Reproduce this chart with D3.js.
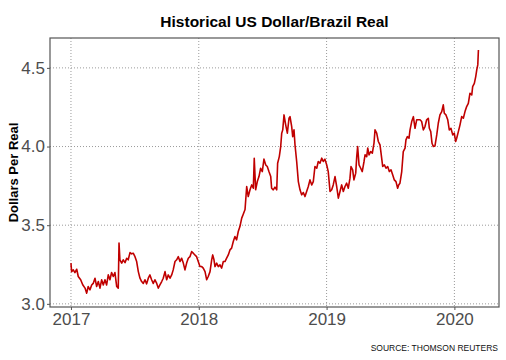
<!DOCTYPE html>
<html><head><meta charset="utf-8">
<script src="https://cdn.jsdelivr.net/npm/d3@7"></script>
<style>html,body{margin:0;padding:0;background:#fff;}svg{display:block;}</style>
</head><body>
<svg id="chart" width="506" height="360"></svg>
<script>
// Time in decimal years
const years = [
2017.000,2017.005,2017.018,2017.031,2017.045,2017.057,2017.076,2017.092,2017.110,2017.123,
2017.135,2017.149,2017.162,2017.174,2017.188,2017.201,2017.214,2017.227,2017.240,2017.253,
2017.266,2017.279,2017.292,2017.305,2017.318,2017.331,2017.344,2017.358,2017.370,2017.376,
2017.383,2017.397,2017.409,2017.423,2017.436,2017.448,2017.462,2017.475,2017.487,2017.501,
2017.514,2017.527,2017.540,2017.553,2017.566,2017.579,2017.592,2017.605,2017.618,2017.631,
2017.644,2017.657,2017.671,2017.683,2017.696,2017.710,2017.722,2017.736,2017.749,2017.761,
2017.775,2017.788,2017.800,2017.814,2017.827,2017.840,2017.853,2017.866,2017.879,2017.892,
2017.905,2017.918,2017.931,2017.944,2017.957,2017.970,2017.983,2017.996,2018.009,2018.023,
2018.035,2018.049,2018.062,2018.074,2018.088,2018.101,2018.109,2018.119,2018.127,2018.140,
2018.153,2018.166,2018.179,2018.192,2018.205,2018.218,2018.231,2018.244,2018.257,2018.270,
2018.283,2018.296,2018.309,2018.322,2018.336,2018.348,2018.362,2018.375,2018.387,2018.401,
2018.414,2018.427,2018.434,2018.445,2018.458,2018.471,2018.484,2018.497,2018.510,2018.524,
2018.536,2018.549,2018.563,2018.570,2018.583,2018.596,2018.610,2018.617,2018.630,2018.641,
2018.649,2018.657,2018.667,2018.680,2018.693,2018.706,2018.714,2018.727,2018.735,2018.745,
2018.753,2018.766,2018.779,2018.792,2018.805,2018.818,2018.831,2018.844,2018.857,2018.870,
2018.884,2018.896,2018.909,2018.923,2018.935,2018.948,2018.962,2018.974,2018.987,2019.001,
2019.013,2019.027,2019.040,2019.052,2019.066,2019.079,2019.092,2019.105,2019.118,2019.131,
2019.144,2019.157,2019.170,2019.183,2019.191,2019.204,2019.214,2019.228,2019.236,2019.243,
2019.254,2019.267,2019.279,2019.293,2019.301,2019.314,2019.322,2019.332,2019.345,2019.358,
2019.371,2019.379,2019.392,2019.405,2019.418,2019.431,2019.439,2019.452,2019.465,2019.478,
2019.491,2019.504,2019.517,2019.530,2019.543,2019.556,2019.564,2019.574,2019.588,2019.600,
2019.614,2019.621,2019.632,2019.645,2019.653,2019.666,2019.679,2019.692,2019.705,2019.718,
2019.731,2019.744,2019.757,2019.770,2019.783,2019.796,2019.804,2019.815,2019.825,2019.835,
2019.848,2019.862,2019.874,2019.887,2019.901,2019.913,2019.921,2019.934,2019.948,2019.960,
2019.973,2019.987,2019.999,2020.010,2020.018,2020.031,2020.044,2020.057,2020.070,2020.083,
2020.096,2020.109,2020.122,2020.136,2020.143,2020.156,2020.167,2020.175,2020.183,2020.188
];
// Dollars per real (USD/BRL rate)
const rates = [
3.259,3.205,3.216,3.199,3.220,3.174,3.153,3.121,3.100,3.068,
3.110,3.089,3.120,3.130,3.163,3.110,3.142,3.100,3.153,3.120,
3.153,3.120,3.184,3.153,3.199,3.174,3.199,3.110,3.100,3.386,
3.280,3.259,3.280,3.262,3.290,3.280,3.326,3.318,3.322,3.300,
3.269,3.205,3.163,3.142,3.130,3.153,3.127,3.163,3.184,3.153,
3.130,3.153,3.130,3.100,3.120,3.142,3.163,3.205,3.153,3.184,
3.163,3.184,3.216,3.269,3.280,3.300,3.269,3.290,3.259,3.216,
3.259,3.290,3.300,3.332,3.322,3.311,3.300,3.269,3.237,3.237,
3.227,3.205,3.153,3.174,3.205,3.280,3.311,3.280,3.237,3.259,
3.237,3.248,3.227,3.269,3.269,3.290,3.311,3.343,3.354,3.396,
3.428,3.407,3.460,3.491,3.545,3.570,3.600,3.746,3.682,3.725,
3.756,3.735,3.926,3.725,3.777,3.809,3.862,3.841,3.920,3.883,
3.873,3.841,3.809,3.735,3.725,3.742,3.725,3.894,3.936,4.000,
4.085,4.106,4.201,4.138,4.085,4.180,4.190,4.127,4.063,4.106,
4.010,3.905,3.777,3.725,3.693,3.708,3.682,3.714,3.746,3.788,
3.756,3.777,3.873,3.862,3.905,3.894,3.926,3.905,3.920,3.883,
3.841,3.714,3.725,3.756,3.809,3.746,3.672,3.714,3.756,3.714,
3.746,3.767,3.735,3.799,3.873,3.852,3.788,3.831,3.936,4.000,
3.883,3.862,3.841,3.905,3.947,3.936,3.990,3.947,3.968,3.958,
4.021,4.106,4.085,4.032,4.010,3.926,3.873,3.883,3.862,3.873,
3.841,3.852,3.820,3.788,3.777,3.735,3.756,3.767,3.841,3.968,
3.990,4.042,4.063,4.053,4.106,4.159,4.190,4.116,4.170,4.170,
4.170,4.159,4.106,4.127,4.170,4.180,4.116,4.095,4.021,4.000,
4.004,4.074,4.148,4.201,4.222,4.265,4.212,4.201,4.170,4.106,
4.116,4.074,4.085,4.032,4.053,4.095,4.138,4.190,4.180,4.222,
4.254,4.275,4.339,4.328,4.381,4.402,4.445,4.487,4.519,4.614
];
const xTicks = [2017, 2018, 2019, 2020];
const yTicks = [3.0, 3.5, 4.0, 4.5];
const xDomain = [2016.836, 2020.349];
const yDomain = [2.98, 4.69];

const title = "Historical US Dollar/Brazil Real";
const yTitle = "Dollars Per Real";
const source = "SOURCE: THOMSON REUTERS";

const svg = d3.select("#chart");
const m = {left: 50, right: 7, top: 38, bottom: 53};
const W = 506, H = 360;
const pw = W - m.left - m.right, ph = H - m.top - m.bottom;

const x = d3.scaleLinear().domain(xDomain).range([0, pw]);
const y = d3.scaleLinear().domain(yDomain).range([ph, 0]);

const g = svg.append("g").attr("transform", `translate(${m.left},${m.top})`);

// gridlines
g.append("g").selectAll("line.gx").data(xTicks).join("line")
  .attr("x1", d => x(d)).attr("x2", d => x(d)).attr("y1", 0).attr("y2", ph)
  .attr("stroke", "#9a9a9a").attr("stroke-width", 1).attr("stroke-dasharray", "1,2");
g.append("g").selectAll("line.gy").data(yTicks).join("line")
  .attr("y1", d => y(d)).attr("y2", d => y(d)).attr("x1", 0).attr("x2", pw)
  .attr("stroke", "#9a9a9a").attr("stroke-width", 1).attr("stroke-dasharray", "1,2");

// line
const data = years.map((t, i) => ({t, v: rates[i]}));
g.append("path").datum(data)
  .attr("fill", "none").attr("stroke", "#c00000").attr("stroke-width", 1.6)
  .attr("stroke-linejoin", "round")
  .attr("d", d3.line().x(d => x(d.t)).y(d => y(d.v)));

// border
g.append("rect").attr("x", 0).attr("y", 0).attr("width", pw).attr("height", ph)
  .attr("fill", "none").attr("stroke", "#555").attr("stroke-width", 1.2);

// axes
const xAxis = g.append("g").attr("transform", `translate(0,${ph})`)
  .call(d3.axisBottom(x).tickValues(xTicks).tickFormat(d3.format("d")).tickSize(3).tickPadding(3));
const yAxis = g.append("g")
  .call(d3.axisLeft(y).tickValues(yTicks).tickFormat(d3.format(".1f")).tickSize(3).tickPadding(2));
[xAxis, yAxis].forEach(a => {
  a.select(".domain").remove();
  a.selectAll(".tick line").attr("stroke", "#555");
  a.selectAll(".tick text").attr("fill", "#4d4d4d")
    .style("font-family", "Liberation Sans, Arial, sans-serif").style("font-size", "17px");
});

// titles
svg.append("text").attr("x", m.left + pw / 2).attr("y", 27).attr("text-anchor", "middle")
  .style("font-family", "Liberation Sans, Arial, sans-serif").style("font-weight", "bold")
  .style("font-size", "15.5px").attr("fill", "#000").text(title);
svg.append("text").attr("transform", `translate(18,${m.top + ph / 2}) rotate(-90)`)
  .attr("text-anchor", "middle")
  .style("font-family", "Liberation Sans, Arial, sans-serif").style("font-weight", "bold")
  .style("font-size", "13px").attr("fill", "#000").text(yTitle);
svg.append("text").attr("x", 498).attr("y", 351).attr("text-anchor", "end")
  .style("font-family", "Liberation Sans, Arial, sans-serif")
  .style("font-size", "8.5px").attr("fill", "#111").text(source);
</script>
</body></html>
